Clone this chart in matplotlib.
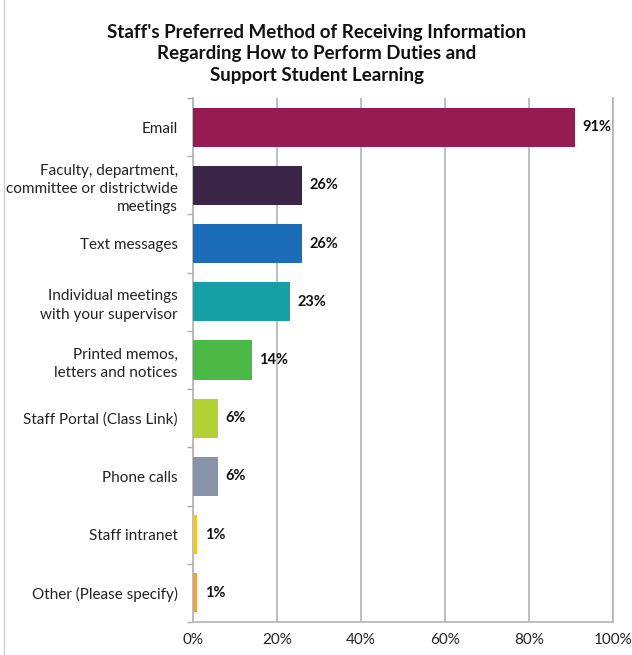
import matplotlib.pyplot as plt
from matplotlib.lines import Line2D
from matplotlib.ticker import FixedLocator, FuncFormatter
import numpy as np

# Survey responses (share of staff choosing each method)
methods = [
    "Email",
    "Faculty, department,\ncommittee or districtwide\nmeetings",
    "Text messages",
    "Individual meetings\nwith your supervisor",
    "Printed memos,\nletters and notices",
    "Staff Portal (Class Link)",
    "Phone calls",
    "Staff intranet",
    "Other (Please specify)",
]
percents = [91, 26, 26, 23, 14, 6, 6, 1, 1]
colors = ["#951b50", "#3b2649", "#1c6db8", "#15a0a6", "#4cb847",
          "#b4d234", "#8693a9", "#f6c51b", "#f0a33a"]

plt.rcParams['font.family'] = ['Lato', 'DejaVu Sans']

fig = plt.figure(figsize=(6.32, 6.55), dpi=100)
ax = fig.add_axes([193 / 632, 1 - 622 / 655, 420 / 632, 524 / 655])

y = np.arange(len(methods))
ax.barh(y, percents, height=0.67, color=colors, zorder=3)

for yi, p in zip(y, percents):
    ax.text(p + 1.8, yi, f"{p}%", va='center', ha='left',
            fontsize=10.5, fontweight='bold', color='#111111')

ax.set_xlim(0, 100)
ax.set_ylim(len(methods) - 0.5, -0.5)
ax.set_xticks([0, 20, 40, 60, 80, 100])
ax.xaxis.set_major_formatter(FuncFormatter(lambda v, _: f"{v:.0f}%"))
ax.tick_params(axis='x', length=0, pad=8, labelsize=11, colors='#222222')

ax.set_yticks(y)
ax.set_yticklabels(methods, fontsize=11, color='#222222', linespacing=1.4)
ax.tick_params(axis='y', which='major', length=0, pad=11)
ax.yaxis.set_minor_locator(FixedLocator(np.arange(-0.5, len(methods), 1)))
ax.tick_params(axis='y', which='minor', length=4, color='#aaaaaa', width=1)

ax.grid(axis='x', color='#b3b3b3', linewidth=1.2, zorder=0)
ax.spines['top'].set_visible(False)
for side in ['left', 'bottom', 'right']:
    ax.spines[side].set_color('#b3b3b3')
    ax.spines[side].set_linewidth(1.2)

fig.text(0.5015, 1 - 54 / 655,
         "Staff's Preferred Method of Receiving Information\n"
         "Regarding How to Perform Duties and\n"
         "Support Student Learning",
         ha='center', va='center', fontsize=13.5, fontweight='bold',
         linespacing=1.3, color='#111111')

# thin frame line down the left edge
fig.add_artist(Line2D([4 / 632, 4 / 632], [0, 1], color='#cccccc',
                      linewidth=1, transform=fig.transFigure))

fig.savefig("out.png", dpi=100)
